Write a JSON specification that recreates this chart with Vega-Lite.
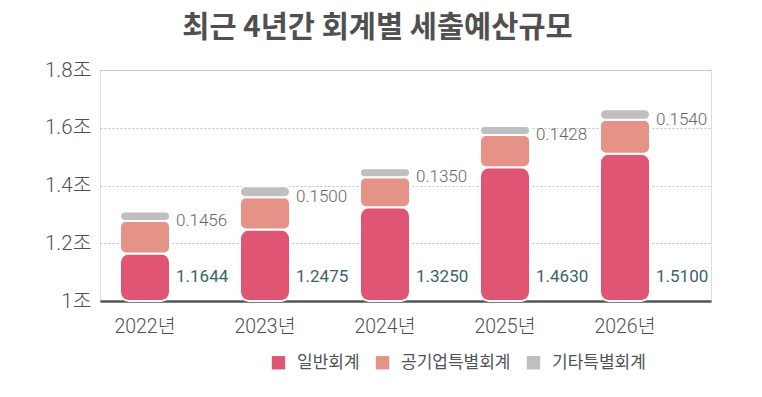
{
  "$schema": "https://vega.github.io/schema/vega-lite/v6.json",
  "width": 611,
  "height": 231,
  "autosize": "none",
  "padding": {"left": 100, "top": 70, "right": 51, "bottom": 96},
  "background": "white",
  "title": {
    "text": "최근 4년간 회계별 세출예산규모",
    "font": "Noto Sans CJK KR",
    "fontSize": 29.5,
    "fontWeight": "bold",
    "color": "#505050",
    "anchor": "middle",
    "frame": "group",
    "dx": -28,
    "baseline": "bottom",
    "offset": -12
  },
  "data": {
    "values": [
      {"year": "2022년", "type": "일반회계", "value": 1.1644, "label": "1.1644"},
      {"year": "2022년", "type": "공기업특별회계", "value": 0.113, "label": "0.1456"},
      {"year": "2022년", "type": "기타특별회계", "value": 0.0326, "label": ""},
      {"year": "2023년", "type": "일반회계", "value": 1.2475, "label": "1.2475"},
      {"year": "2023년", "type": "공기업특별회계", "value": 0.112, "label": "0.1500"},
      {"year": "2023년", "type": "기타특별회계", "value": 0.038, "label": ""},
      {"year": "2024년", "type": "일반회계", "value": 1.325, "label": "1.3250"},
      {"year": "2024년", "type": "공기업특별회계", "value": 0.104, "label": "0.1350"},
      {"year": "2024년", "type": "기타특별회계", "value": 0.031, "label": ""},
      {"year": "2025년", "type": "일반회계", "value": 1.463, "label": "1.4630"},
      {"year": "2025년", "type": "공기업특별회계", "value": 0.112, "label": "0.1428"},
      {"year": "2025년", "type": "기타특별회계", "value": 0.0308, "label": ""},
      {"year": "2026년", "type": "일반회계", "value": 1.51, "label": "1.5100"},
      {"year": "2026년", "type": "공기업특별회계", "value": 0.118, "label": "0.1540"},
      {"year": "2026년", "type": "기타특별회계", "value": 0.036, "label": ""}
    ]
  },
  "transform": [
    {"stack": "value", "groupby": ["year"], "as": ["v0", "v1"]}
  ],
  "encoding": {
    "x": {
      "field": "year",
      "type": "nominal",
      "sort": null,
      "title": null,
      "scale": {"paddingInner": 0.5833, "paddingOuter": 0.3375, "align": 0.247},
      "axis": {
        "labelAngle": 0,
        "labelFont": "Roboto, Noto Sans CJK KR",
        "labelFontWeight": 300,
        "labelFontSize": 19.5,
        "labelColor": "#505050",
        "labelPadding": 16,
        "ticks": false,
        "domain": true,
        "domainColor": "#555555",
        "domainWidth": 2.5,
        "grid": false
      }
    }
  },
  "layer": [
    {
      "transform": [{"filter": "datum.type === '일반회계'"}],
      "mark": {"type": "bar", "cornerRadius": 9, "stroke": "white", "strokeWidth": 2},
      "encoding": {
        "y": {
          "field": "v1",
          "type": "quantitative",
          "title": null,
          "scale": {"domain": [1, 1.8], "zero": false, "nice": false},
          "axis": {
            "values": [1, 1.2, 1.4, 1.6, 1.8],
            "labelExpr": "datum.value == 1 ? '1조' : format(datum.value, '.1f') + '조'",
            "labelFont": "Roboto, Noto Sans CJK KR",
            "labelFontWeight": 300,
            "labelFontSize": 20.5,
            "labelColor": "#505050",
            "labelPadding": 9,
            "ticks": false,
            "domain": false,
            "grid": true,
            "gridColor": "#b0b0b0",
            "gridDash": [2, 2],
            "gridWidth": 0.8
          }
        },
        "y2": {"datum": 1},
        "color": {
          "field": "type",
          "type": "nominal",
          "scale": {
            "domain": ["일반회계", "공기업특별회계", "기타특별회계"],
            "range": ["#e05573", "#e69387", "#bfbfc1"]
          },
          "legend": {
            "title": null,
            "orient": "none",
            "direction": "horizontal",
            "legendX": 170,
            "legendY": 284,
            "symbolType": "square",
            "symbolSize": 180,
            "symbolStrokeWidth": 0,
            "labelFont": "Noto Sans CJK KR",
            "labelFontSize": 17,
            "labelColor": "#4d5358",
            "labelOffset": 10,
            "columnPadding": 14
          }
        }
      }
    },
    {
      "transform": [{"filter": "datum.type !== '일반회계'"}],
      "mark": {"type": "bar", "cornerRadius": 6, "stroke": "white", "strokeWidth": 2},
      "encoding": {
        "y": {"field": "v1", "type": "quantitative"},
        "y2": {"field": "v0"},
        "color": {"field": "type", "type": "nominal"}
      }
    },
    {
      "transform": [{"filter": "datum.type === '일반회계'"}],
      "mark": {"type": "text", "align": "left", "baseline": "middle", "dx": 31, "font": "Roboto", "fontWeight": 400, "fontSize": 17, "color": "#3a6468"},
      "encoding": {
        "y": {"datum": 1.083},
        "text": {"field": "label"}
      }
    },
    {
      "transform": [{"filter": "datum.type === '공기업특별회계'"}],
      "mark": {"type": "text", "align": "left", "baseline": "middle", "dx": 31, "font": "Roboto", "fontWeight": 300, "fontSize": 17, "color": "#666666"},
      "encoding": {
        "y": {"field": "v1", "type": "quantitative"},
        "text": {"field": "label"}
      }
    }
  ]
}
